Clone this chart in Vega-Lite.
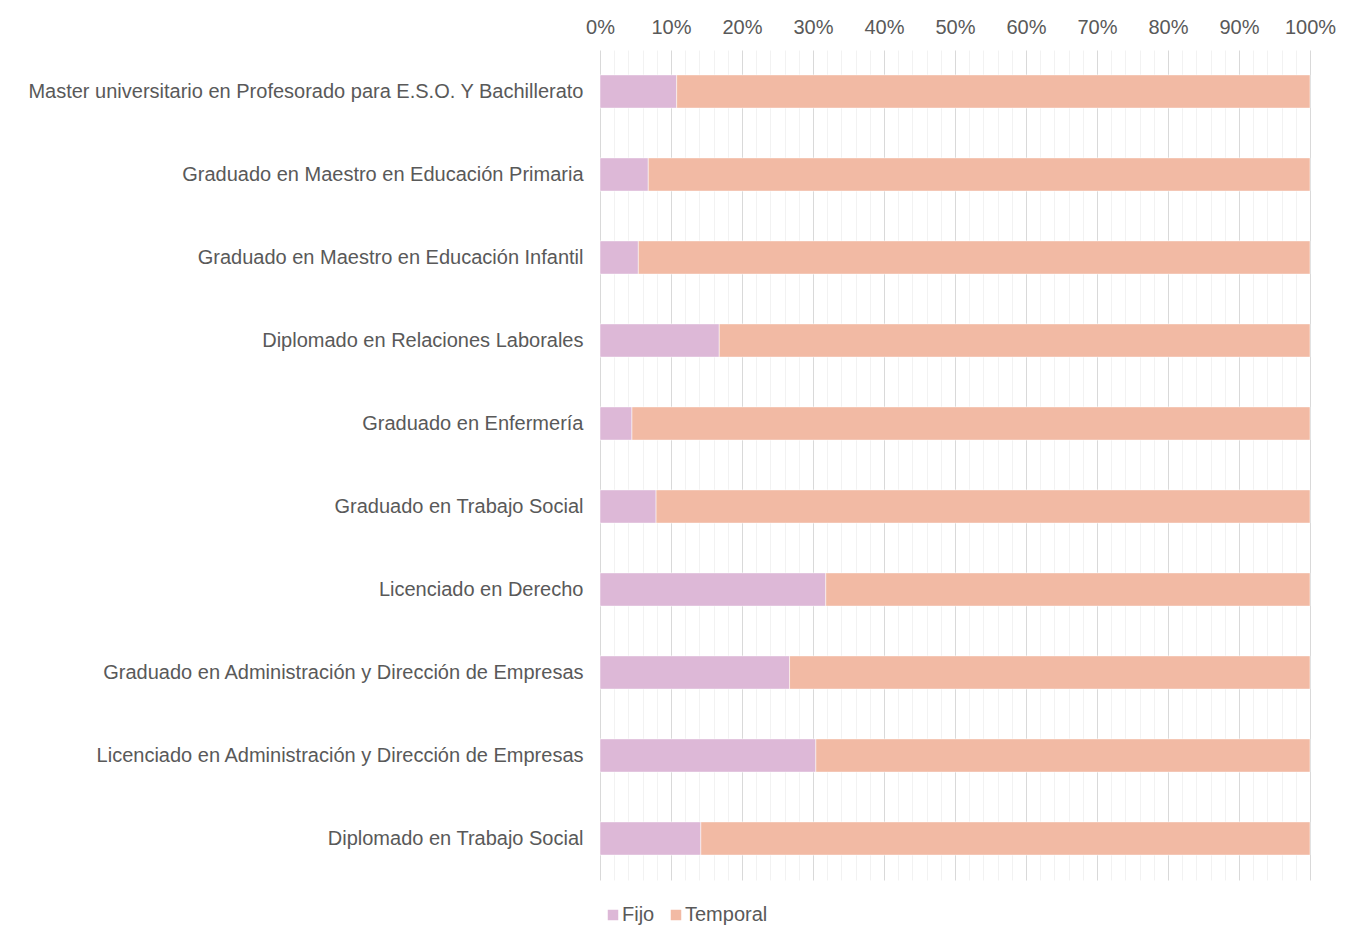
{
  "$schema": "https://vega.github.io/schema/vega-lite/v6.json",
  "width": 710,
  "height": 830,
  "padding": {"left": 600, "top": 50, "right": 53, "bottom": 48},
  "autosize": {"type": "none"},
  "background": "white",
  "config": {
    "view": {"stroke": null},
    "font": "Liberation Sans",
    "axis": {"labelFont": "Liberation Sans"},
    "legend": {"labelFont": "Liberation Sans"}
  },
  "data": {
    "values": [
      {"titulacion": "Master universitario en Profesorado para E.S.O. Y Bachillerato", "tipo": "Fijo", "pct": 10.8},
      {"titulacion": "Master universitario en Profesorado para E.S.O. Y Bachillerato", "tipo": "Temporal", "pct": 89.2},
      {"titulacion": "Graduado en Maestro en Educación Primaria", "tipo": "Fijo", "pct": 6.8},
      {"titulacion": "Graduado en Maestro en Educación Primaria", "tipo": "Temporal", "pct": 93.2},
      {"titulacion": "Graduado en Maestro en Educación Infantil", "tipo": "Fijo", "pct": 5.4},
      {"titulacion": "Graduado en Maestro en Educación Infantil", "tipo": "Temporal", "pct": 94.6},
      {"titulacion": "Diplomado en Relaciones Laborales", "tipo": "Fijo", "pct": 16.8},
      {"titulacion": "Diplomado en Relaciones Laborales", "tipo": "Temporal", "pct": 83.2},
      {"titulacion": "Graduado en Enfermería", "tipo": "Fijo", "pct": 4.5},
      {"titulacion": "Graduado en Enfermería", "tipo": "Temporal", "pct": 95.5},
      {"titulacion": "Graduado en Trabajo Social", "tipo": "Fijo", "pct": 7.9},
      {"titulacion": "Graduado en Trabajo Social", "tipo": "Temporal", "pct": 92.1},
      {"titulacion": "Licenciado en Derecho", "tipo": "Fijo", "pct": 31.8},
      {"titulacion": "Licenciado en Derecho", "tipo": "Temporal", "pct": 68.2},
      {"titulacion": "Graduado en Administración y Dirección de Empresas", "tipo": "Fijo", "pct": 26.7},
      {"titulacion": "Graduado en Administración y Dirección de Empresas", "tipo": "Temporal", "pct": 73.3},
      {"titulacion": "Licenciado en Administración y Dirección de Empresas", "tipo": "Fijo", "pct": 30.4},
      {"titulacion": "Licenciado en Administración y Dirección de Empresas", "tipo": "Temporal", "pct": 69.6},
      {"titulacion": "Diplomado en Trabajo Social", "tipo": "Fijo", "pct": 14.2},
      {"titulacion": "Diplomado en Trabajo Social", "tipo": "Temporal", "pct": 85.8}
    ]
  },
  "mark": {"type": "bar", "stroke": "white", "strokeWidth": 0.5},
  "encoding": {
    "y": {
      "field": "titulacion",
      "type": "nominal",
      "sort": null,
      "scale": {"paddingInner": 0.6, "paddingOuter": 0.3},
      "axis": {
        "title": null,
        "domain": false,
        "ticks": false,
        "labelFont": "Liberation Sans",
        "labelFontSize": 20,
        "labelColor": "#595959",
        "labelPadding": 17,
        "labelLimit": 700
      }
    },
    "x": {
      "field": "pct",
      "type": "quantitative",
      "stack": "normalize",
      "scale": {"domain": [0, 1], "nice": false},
      "axis": {
        "orient": "top",
        "title": null,
        "domain": false,
        "ticks": false,
        "values": [0,0.02,0.04,0.06,0.08,0.1,0.12,0.14,0.16,0.18,0.2,0.22,0.24,0.26,0.28,0.3,0.32,0.34,0.36,0.38,0.4,0.42,0.44,0.46,0.48,0.5,0.52,0.54,0.56,0.58,0.6,0.62,0.64,0.66,0.68,0.7,0.72,0.74,0.76,0.78,0.8,0.82,0.84,0.86,0.88,0.9,0.92,0.94,0.96,0.98,1],
        "labelExpr": "round(datum.value*100) % 10 === 0 ? format(datum.value, '.0%') : ''",
        "labelFont": "Liberation Sans",
        "labelFontSize": 20,
        "labelColor": "#595959",
        "labelPadding": 13,
        "labelOverlap": false,
        "labelFlush": false,
        "grid": true,
        "gridColor": {"condition": {"test": "round(datum.value*100) % 10 === 0", "value": "#d9d9d9"}, "value": "#f2f2f2"},
        "gridWidth": 1
      }
    },
    "color": {
      "field": "tipo",
      "type": "nominal",
      "scale": {"domain": ["Fijo", "Temporal"], "range": ["#DDB8D7", "#F2BAA4"]},
      "legend": {
        "title": null,
        "orient": "none",
        "direction": "horizontal",
        "legendX": 3,
        "legendY": 855,
        "symbolType": "square",
        "symbolSize": 110,
        "symbolStrokeWidth": 0,
        "labelFont": "Liberation Sans",
        "labelFontSize": 20,
        "labelColor": "#595959",
        "labelOffset": -1,
        "columnPadding": 11
      }
    }
  }
}
